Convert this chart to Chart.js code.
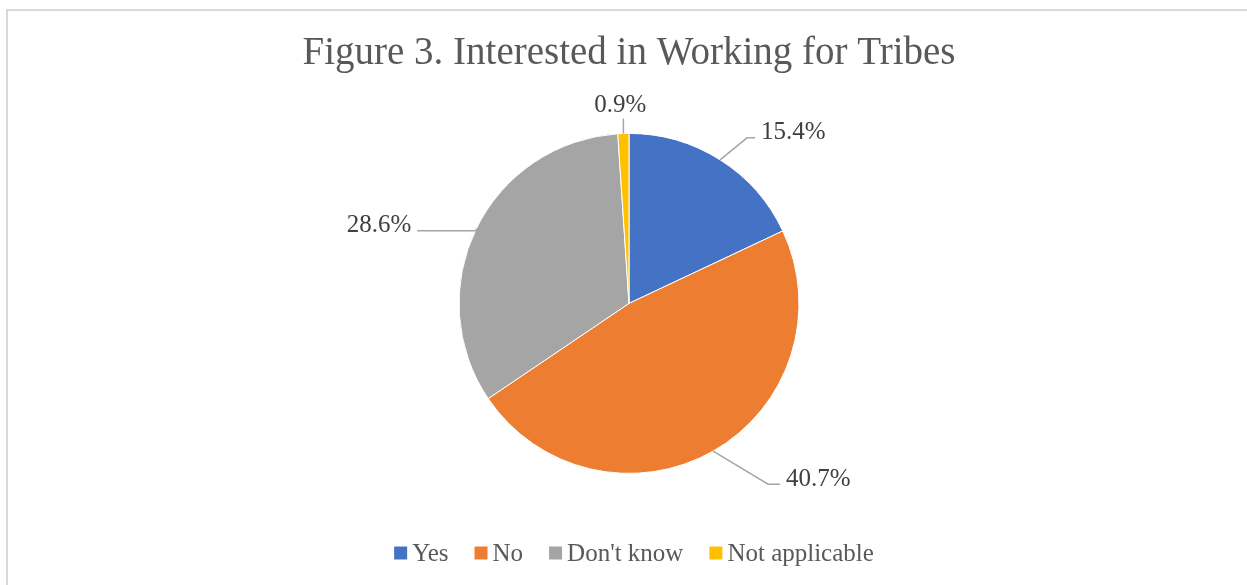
<!DOCTYPE html>
<html>
<head>
<meta charset="utf-8">
<script src="https://cdn.jsdelivr.net/npm/chart.js@4"></script>
<style>
  html, body { margin: 0; padding: 0; background: #fff; overflow: hidden; }
  #frame { position: absolute; left: 6px; top: 9px; width: 1400px; height: 800px;
           border-left: 2px solid #d9d9d9; border-top: 2px solid #d9d9d9; }
  #wrap { position: absolute; left: 0; top: 0; width: 1247px; height: 585px; }
</style>
</head>
<body>
<div id="frame"></div>
<div id="wrap"><canvas id="pieChart"></canvas></div>
<script>
// data
var categories = ['Yes', 'No', "Don't know", 'Not applicable'];
var percents = [15.4, 40.7, 28.6, 0.9];
var sliceColors = ['#4472C4', '#ED7D31', '#A5A5A5', '#FFC000'];

var serif = "'Liberation Serif', serif";

// where each leader line goes, relative to the slice's outer edge
var leaders = [
    { elbow: [27, -22], tail: 8, align: 'left' },
    { elbow: [55, 33], tail: 12, align: 'left' },
    { elbow: [0, 2], tail: -59, align: 'right' },
    { elbow: [0, -15], tail: 0, align: 'center' }
];

var leaderLabels = {
    id: 'leaderLabels',
    afterDatasetsDraw: function(chart) {
        var ctx = chart.ctx;
        var meta = chart.getDatasetMeta(0);
        ctx.save();
        ctx.strokeStyle = '#a6a6a6';
        ctx.lineWidth = 1.5;
        ctx.fillStyle = '#404040';
        ctx.font = "25px " + serif;
        meta.data.forEach(function(arc, i) {
            var p = arc.getProps(['x', 'y', 'startAngle', 'endAngle', 'outerRadius'], true);
            var mid = (p.startAngle + p.endAngle) / 2;
            var ax = p.x + Math.cos(mid) * p.outerRadius;
            var ay = p.y + Math.sin(mid) * p.outerRadius;
            var l = leaders[i];
            var ex = ax + l.elbow[0], ey = ay + l.elbow[1];
            var tx = ex + l.tail;
            ctx.beginPath();
            ctx.moveTo(ax, ay);
            ctx.lineTo(ex, ey);
            ctx.lineTo(tx, ey);
            ctx.stroke();
            var txt = percents[i].toFixed(1) + '%';
            ctx.textAlign = l.align;
            if (l.align === 'center') {
                ctx.textBaseline = 'bottom';
                ctx.fillText(txt, tx - 3, ey - 1);
            } else {
                ctx.textBaseline = 'middle';
                ctx.fillText(txt, l.align === 'left' ? tx + 6 : tx - 6, ey - 5);
            }
        });
        ctx.restore();
    }
};

// Excel-style legend: small square, short gap, label
var bottomLegend = {
    id: 'bottomLegend',
    afterDraw: function(chart) {
        var ctx = chart.ctx;
        var box = 13, gap = 5, spacing = 26, y = 553;
        ctx.save();
        ctx.font = "25px " + serif;
        var widths = categories.map(function(c) { return ctx.measureText(c).width; });
        var total = 0;
        widths.forEach(function(w) { total += box + gap + w; });
        total += spacing * (categories.length - 1);
        var x = 634 - total / 2;
        ctx.textAlign = 'left';
        ctx.textBaseline = 'middle';
        categories.forEach(function(c, i) {
            ctx.fillStyle = sliceColors[i];
            ctx.fillRect(x, y - box / 2, box, box);
            ctx.fillStyle = '#595959';
            ctx.fillText(c, x + box + gap, y + 1);
            x += box + gap + widths[i] + spacing;
        });
        ctx.restore();
    }
};

var ctx = document.getElementById('pieChart').getContext('2d');
var pieChart = new Chart(ctx, {
    type: 'pie',
    data: {
        labels: categories,
        datasets: [{
            data: percents,
            backgroundColor: sliceColors,
            borderColor: '#fff',
            borderWidth: 1
        }]
    },
    options: {
        responsive: true,
        maintainAspectRatio: false,
        animation: false,
        radius: 170,
        layout: { padding: { left: 11, right: 0, top: 0, bottom: 55 } },
        plugins: {
            title: {
                display: true,
                text: 'Figure 3. Interested in Working for Tribes',
                color: '#595959',
                font: { family: serif, size: 39, weight: 'normal' },
                padding: { top: 30, bottom: 0 }
            },
            legend: { display: false },
            tooltip: { enabled: false }
        }
    },
    plugins: [leaderLabels, bottomLegend]
});
</script>
</body>
</html>
